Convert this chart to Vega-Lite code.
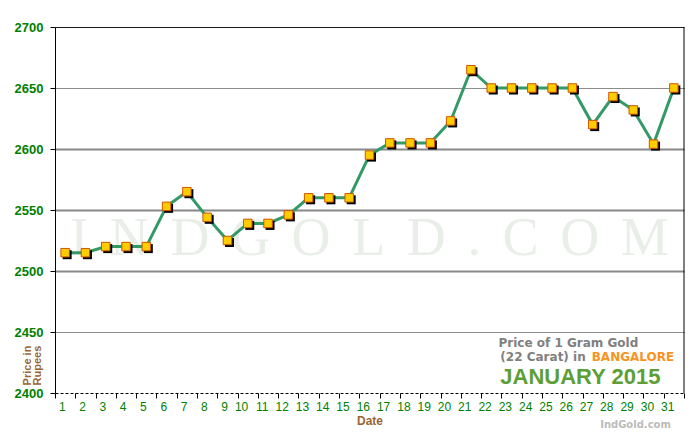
{
  "$schema": "https://vega.github.io/schema/vega-lite/v6.json",
  "width": 629,
  "height": 366,
  "autosize": "none",
  "padding": {"left": 55, "top": 27, "right": 16, "bottom": 47},
  "background": "white",
  "config": {"view": {"stroke": null}, "font": "Liberation Sans"},
  "datasets": {
    "gold": [
      {"day": 1, "price": 2515}, {"day": 2, "price": 2515}, {"day": 3, "price": 2520},
      {"day": 4, "price": 2520}, {"day": 5, "price": 2520}, {"day": 6, "price": 2553},
      {"day": 7, "price": 2565}, {"day": 8, "price": 2544}, {"day": 9, "price": 2525},
      {"day": 10, "price": 2539}, {"day": 11, "price": 2539}, {"day": 12, "price": 2546},
      {"day": 13, "price": 2560}, {"day": 14, "price": 2560}, {"day": 15, "price": 2560},
      {"day": 16, "price": 2595}, {"day": 17, "price": 2605}, {"day": 18, "price": 2605},
      {"day": 19, "price": 2605}, {"day": 20, "price": 2623}, {"day": 21, "price": 2665},
      {"day": 22, "price": 2650}, {"day": 23, "price": 2650}, {"day": 24, "price": 2650},
      {"day": 25, "price": 2650}, {"day": 26, "price": 2650}, {"day": 27, "price": 2620},
      {"day": 28, "price": 2643}, {"day": 29, "price": 2632}, {"day": 30, "price": 2604},
      {"day": 31, "price": 2650}
    ]
  },
  "layer": [
    {
      "data": {"values": [{}]},
      "mark": {"type": "text", "text": "I\u2009\u2009N\u2009\u2009D\u2009\u2009G\u2009\u2009O\u2009\u2009L\u2009\u2009D\u2009\u2009.\u2009\u2009C\u2009\u2009O\u2009\u2009M", "font": "Liberation Serif", "fontSize": 54, "color": "#E9EEE9", "align": "center", "baseline": "middle"},
      "encoding": {
        "x": {"datum": 16, "type": "ordinal", "bandPosition": 0.5, "scale": {"type": "band", "paddingInner": 0, "paddingOuter": 0}},
        "y": {"datum": 2526, "type": "quantitative", "scale": {"domain": [2400, 2700]}}
      }
    },
    {
      "data": {"values": [{}]},
      "mark": {"type": "rule", "color": "black", "strokeWidth": 1},
      "encoding": {
        "x": {"datum": 31, "type": "ordinal", "bandPosition": 1, "scale": {"type": "band", "paddingInner": 0, "paddingOuter": 0}}
      }
    },
    {
      "data": {"name": "gold"},
      "mark": {"type": "line", "color": "#339966", "strokeWidth": 3},
      "encoding": {
        "x": {
          "field": "day", "type": "ordinal", "bandPosition": 0.5,
          "scale": {"type": "band", "paddingInner": 0, "paddingOuter": 0},
          "axis": {
            "title": "Date", "titleColor": "#996633", "titleFontWeight": "bold", "titleFontSize": 12, "titlePadding": 3,
            "labelAngle": 0, "labelColor": "#008000", "labelFontSize": 12, "labelPadding": 8, "labelFontWeight": "normal",
            "tickBand": "extent", "tickColor": "black", "tickSize": 5,
            "domainColor": "black", "domainDash": [3, 2],
            "grid": false
          }
        },
        "y": {
          "field": "price", "type": "quantitative",
          "scale": {"domain": [2400, 2700]},
          "axis": {
            "values": [2400, 2450, 2500, 2550, 2600, 2650, 2700],
            "format": "d",
            "title": ["Price in", "Rupees"],
            "titleColor": "#996633", "titleFontSize": 11, "titleFontWeight": "bold",
            "titleAngle": 270, "titleX": -28, "titleY": 338, "titleAlign": "center", "titleBaseline": "middle", "titleLineHeight": 10,
            "labelColor": "#008000", "labelFontWeight": "bold", "labelFontSize": 13, "labelPadding": 7,
            "tickColor": "black", "tickSize": 5, "domainColor": "black", "domainWidth": 1,
            "grid": true,
            "gridColor": {"condition": {"test": "datum.value == 2700 || datum.value == 2650 || datum.value == 2450", "value": "#1a1a1a"}, "value": "#888888"},
            "gridDash": {"condition": {"test": "datum.value == 2650 || datum.value == 2450", "value": [1, 1]}, "value": []},
            "gridWidth": {"condition": {"test": "datum.value == 2700 || datum.value == 2650 || datum.value == 2450", "value": 1}, "value": 2},
            "gridOpacity": {"condition": {"test": "datum.value == 2400", "value": 0}, "value": 1}
          }
        }
      }
    },
    {
      "data": {"name": "gold"},
      "mark": {"type": "square", "color": "black", "opacity": 1, "size": 81, "xOffset": 2, "yOffset": 2},
      "encoding": {
        "x": {"field": "day", "type": "ordinal", "bandPosition": 0.5, "scale": {"type": "band", "paddingInner": 0, "paddingOuter": 0}},
        "y": {"field": "price", "type": "quantitative", "scale": {"domain": [2400, 2700]}}
      }
    },
    {
      "data": {"name": "gold"},
      "mark": {"type": "square", "fill": "#FFCC00", "stroke": "#CC5500", "strokeWidth": 1, "opacity": 1, "size": 72},
      "encoding": {
        "x": {"field": "day", "type": "ordinal", "bandPosition": 0.5, "scale": {"type": "band", "paddingInner": 0, "paddingOuter": 0}},
        "y": {"field": "price", "type": "quantitative", "scale": {"domain": [2400, 2700]}}
      }
    },
    {
      "data": {"values": [{}]},
      "mark": {"type": "text", "text": "Price of 1 Gram Gold", "font": "DejaVu Sans", "fontWeight": "bold", "fontSize": 12, "color": "#808080", "align": "center", "baseline": "middle", "dx": -4},
      "encoding": {
        "x": {"datum": 26, "type": "ordinal", "bandPosition": 0.5, "scale": {"type": "band", "paddingInner": 0, "paddingOuter": 0}},
        "y": {"datum": 2441, "type": "quantitative", "scale": {"domain": [2400, 2700]}}
      }
    },
    {
      "data": {"values": [{}]},
      "mark": {"type": "text", "text": "(22 Carat) in", "font": "DejaVu Sans", "fontWeight": "bold", "fontSize": 12, "color": "#808080", "align": "right", "baseline": "middle", "dx": -7},
      "encoding": {
        "x": {"datum": 27, "type": "ordinal", "bandPosition": 0.5, "scale": {"type": "band", "paddingInner": 0, "paddingOuter": 0}},
        "y": {"datum": 2429.5, "type": "quantitative", "scale": {"domain": [2400, 2700]}}
      }
    },
    {
      "data": {"values": [{}]},
      "mark": {"type": "text", "text": "BANGALORE", "font": "DejaVu Sans", "fontWeight": "bold", "fontSize": 12, "color": "#F7931E", "align": "left", "baseline": "middle", "dx": -1},
      "encoding": {
        "x": {"datum": 27, "type": "ordinal", "bandPosition": 0.5, "scale": {"type": "band", "paddingInner": 0, "paddingOuter": 0}},
        "y": {"datum": 2429.5, "type": "quantitative", "scale": {"domain": [2400, 2700]}}
      }
    },
    {
      "data": {"values": [{}]},
      "mark": {"type": "text", "text": "JANUARY 2015", "font": "Liberation Sans", "fontWeight": "bold", "fontSize": 22, "color": "#5E9E36", "align": "center", "baseline": "middle", "dx": 8},
      "encoding": {
        "x": {"datum": 26, "type": "ordinal", "bandPosition": 0.5, "scale": {"type": "band", "paddingInner": 0, "paddingOuter": 0}},
        "y": {"datum": 2413, "type": "quantitative", "scale": {"domain": [2400, 2700]}}
      }
    },
    {
      "data": {"values": [{}]},
      "mark": {"type": "text", "text": "IndGold.com", "font": "DejaVu Sans", "fontWeight": "bold", "fontSize": 10, "color": "#BBBBBB", "align": "right", "baseline": "middle", "dx": -3},
      "encoding": {
        "x": {"datum": 31, "type": "ordinal", "bandPosition": 0.5, "scale": {"type": "band", "paddingInner": 0, "paddingOuter": 0}},
        "y": {"datum": 2374, "type": "quantitative", "scale": {"domain": [2400, 2700]}}
      }
    }
  ]
}
